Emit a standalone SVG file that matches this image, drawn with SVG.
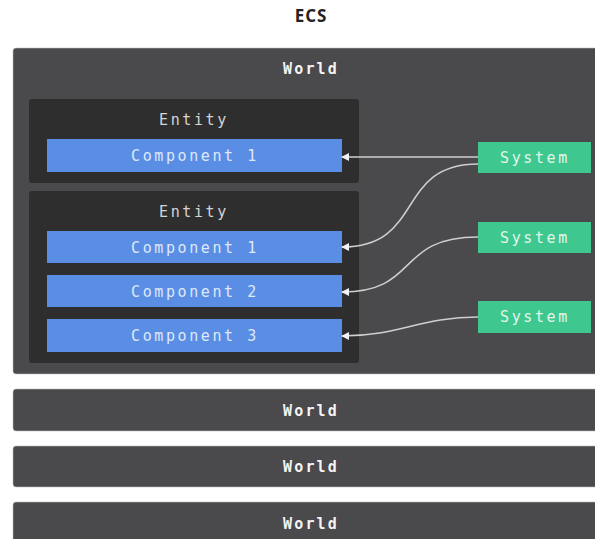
<svg xmlns="http://www.w3.org/2000/svg" width="595" height="539" viewBox="0 0 595 539">
<defs>
<marker id="arr" viewBox="0 0 10 10" refX="9" refY="5" markerWidth="8" markerHeight="8" markerUnits="userSpaceOnUse" orient="auto">
<path d="M0,0 L10,5 L0,10 z" fill="#f2f2f2"/>
</marker>
</defs>
<style>
.world{fill:#4a494b;stroke:#bdbdbd;stroke-width:0.6}
.entity{fill:#2e2e2f}
.comp{fill:#5a8ee4}
.sys{fill:#3ec78e}
.t{font-family:"DejaVu Sans Mono","Liberation Mono",monospace;font-size:15px;letter-spacing:2.6px;text-anchor:middle;dominant-baseline:central}
.tw{fill:#f4f4f4;font-weight:bold;letter-spacing:2.2px}
.te{fill:#d4d4d4}
.tc{fill:#dfe8f8}
.ts{fill:#e2f6ec}
.conn{fill:none;stroke:#cfcfcf;stroke-width:1.5;marker-end:url(#arr)}
</style>
<rect width="595" height="539" fill="#ffffff"/>
<text x="311" y="15" font-family="'Open Sans','Liberation Sans',sans-serif" font-size="17" font-weight="bold" letter-spacing="1" fill="#222" text-anchor="middle" dominant-baseline="central">ECS</text>

<g id="world1">
<rect class="world" x="13" y="48" width="590" height="326" rx="3"/>
<text class="t tw" x="311" y="69">World</text>
</g>
<g id="entity1">
<rect class="entity" x="29" y="99" width="330" height="84" rx="3"/>
<text class="t te" x="194" y="120">Entity</text>
</g>
<g id="entity2">
<rect class="entity" x="29" y="191" width="330" height="172" rx="3"/>
<text class="t te" x="194" y="212">Entity</text>
</g>
<g id="comp1a">
<rect class="comp" x="47" y="139" width="295" height="33"/>
<text class="t tc" x="195" y="156">Component 1</text>
</g>
<g id="comp1b">
<rect class="comp" x="47" y="231" width="295" height="32"/>
<text class="t tc" x="195" y="248">Component 1</text>
</g>
<g id="comp2">
<rect class="comp" x="47" y="275" width="295" height="32"/>
<text class="t tc" x="195" y="292">Component 2</text>
</g>
<g id="comp3">
<rect class="comp" x="47" y="319" width="295" height="33"/>
<text class="t tc" x="195" y="336">Component 3</text>
</g>
<g id="sys1">
<rect class="sys" x="478" y="142" width="113" height="31"/>
<text class="t ts" x="535" y="158">System</text>
</g>
<g id="sys2">
<rect class="sys" x="478" y="222" width="113" height="31"/>
<text class="t ts" x="535" y="238">System</text>
</g>
<g id="sys3">
<rect class="sys" x="478" y="301" width="113" height="32"/>
<text class="t ts" x="535" y="317">System</text>
</g>

<g id="connectors">
<path class="conn" d="M478,157 L342,157"/>
<path class="conn" d="M478,164 C395,164 425,247 342,247"/>
<path class="conn" d="M478,237 C395,237 420,292 342,292"/>
<path class="conn" d="M478,317 C420,317 400,336 342,336"/>
</g>

<g id="world2">
<rect class="world" x="13" y="389" width="590" height="42" rx="3"/>
<text class="t tw" x="311" y="411">World</text>
</g>
<g id="world3">
<rect class="world" x="13" y="446" width="590" height="41" rx="3"/>
<text class="t tw" x="311" y="467">World</text>
</g>
<g id="world4">
<rect class="world" x="13" y="502" width="590" height="50" rx="3"/>
<text class="t tw" x="311" y="524">World</text>
</g>
</svg>
